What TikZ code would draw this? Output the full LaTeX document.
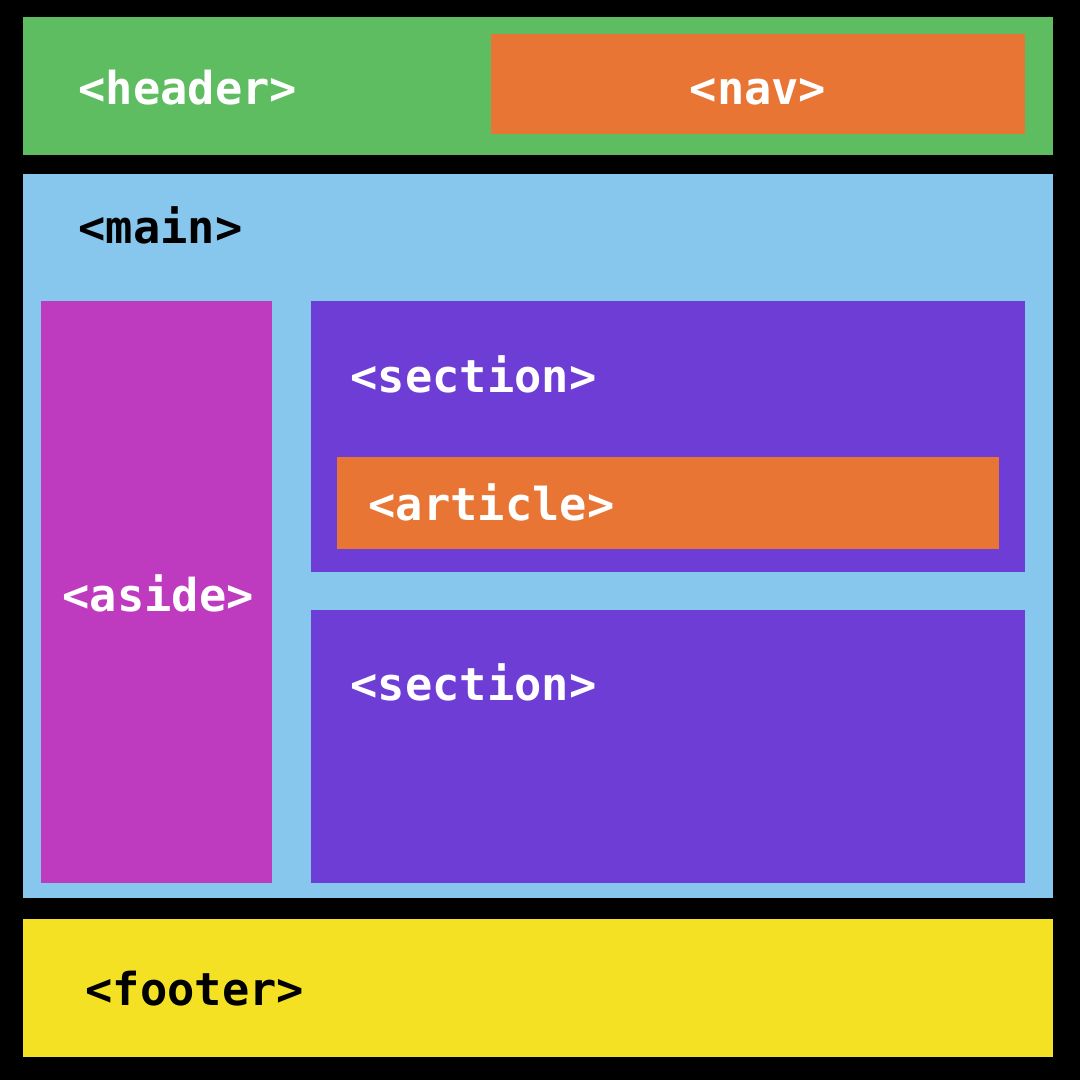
\documentclass[tikz,border=0pt]{standalone}
\usepackage{fontspec}
\newfontfamily\tagfont{DejaVu Sans Mono}
\definecolor{hdrgreen}{HTML}{5FBD61}
\definecolor{navorange}{HTML}{E87533}
\definecolor{mainblue}{HTML}{87C6ED}
\definecolor{asidepink}{HTML}{BE3ABF}
\definecolor{secpurple}{HTML}{6E3DD6}
\definecolor{footyellow}{HTML}{F5E124}

\begin{document}
\begin{tikzpicture}[x=0.1mm, y=-0.1mm,
  tag/.style={font=\tagfont\bfseries\fontsize{12.9pt}{15pt}\selectfont, inner sep=0pt, anchor=base west, text=white},
  dark/.style={text=black}]
  \fill[black] (0,0) rectangle (1080,1080);
  % boxes
  \fill[hdrgreen] (23,17) rectangle (1053,155);
  \fill[navorange] (491,34) rectangle (1025,134);
  \fill[mainblue] (23,174) rectangle (1053,898);
  \fill[asidepink] (41,301) rectangle (272,883);
  \fill[secpurple] (311,301) rectangle (1025,572);
  \fill[navorange] (337,457) rectangle (999,549);
  \fill[secpurple] (311,610) rectangle (1025,883);
  \fill[footyellow] (23,919) rectangle (1053,1057);
  % labels
  \node[tag] (header) at (78,104) {<header>};
  \node[tag, anchor=base] (nav) at (758,104) {<nav>};
  \node[tag, dark] (main) at (78,243) {<main>};
  \node[tag] (sectionA) at (350,392) {<section>};
  \node[tag] (article) at (368,520) {<article>};
  \node[tag] (aside) at (62,611) {<aside>};
  \node[tag] (sectionB) at (350,700) {<section>};
  \node[tag, dark] (footer) at (85,1005) {<footer>};
\end{tikzpicture}
\end{document}
